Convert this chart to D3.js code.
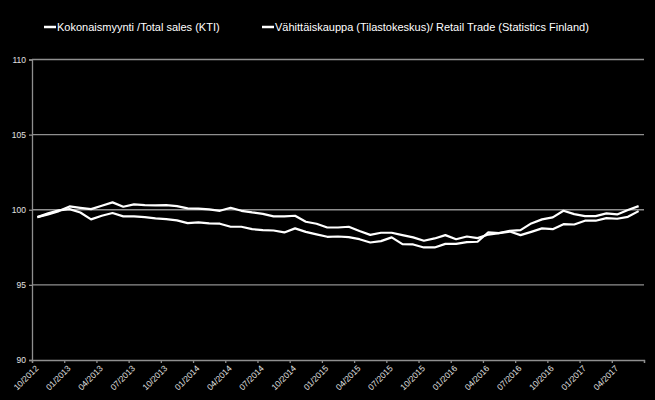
<!DOCTYPE html>
<html><head><meta charset="utf-8">
<script src="https://cdn.jsdelivr.net/npm/d3@7"></script>
<style>html,body{margin:0;padding:0;background:#000;}svg{display:block;}</style>
</head><body>
<script>
const months = ["10/2012","11/2012","12/2012","01/2013","02/2013","03/2013","04/2013","05/2013","06/2013","07/2013","08/2013","09/2013","10/2013","11/2013","12/2013",
"01/2014","02/2014","03/2014","04/2014","05/2014","06/2014","07/2014","08/2014","09/2014","10/2014","11/2014","12/2014",
"01/2015","02/2015","03/2015","04/2015","05/2015","06/2015","07/2015","08/2015","09/2015","10/2015","11/2015","12/2015",
"01/2016","02/2016","03/2016","04/2016","05/2016","06/2016","07/2016","08/2016","09/2016","10/2016","11/2016","12/2016",
"01/2017","02/2017","03/2017","04/2017","05/2017","06/2017"];
const totalSales = [99.51,99.69,99.91,100.22,100.13,100.04,100.27,100.49,100.2,100.36,100.31,100.29,100.31,100.24,100.09,
100.07,100.02,99.93,100.13,99.93,99.82,99.73,99.56,99.56,99.6,99.2,99.07,
98.82,98.82,98.87,98.58,98.33,98.47,98.47,98.31,98.16,97.94,98.09,98.31,
98.04,98.22,98.11,98.35,98.45,98.6,98.64,99.09,99.36,99.49,99.93,99.71,
99.58,99.58,99.76,99.69,99.98,100.24];
const retailTrade = [99.51,99.76,99.96,100.04,99.82,99.36,99.6,99.78,99.56,99.56,99.51,99.42,99.38,99.29,99.11,
99.16,99.09,99.07,98.87,98.87,98.71,98.64,98.62,98.49,98.76,98.53,98.36,
98.2,98.22,98.18,98.04,97.82,97.91,98.16,97.71,97.69,97.49,97.49,97.73,
97.73,97.84,97.87,98.5,98.45,98.55,98.31,98.53,98.76,98.71,99.04,99.02,
99.27,99.27,99.44,99.4,99.53,99.91];
const seriesNames = ["Kokonaismyynti /Total sales (KTI)", "Vähittäiskauppa (Tilastokeskus)/ Retail Trade (Statistics Finland)"];
const yTicks = [90,95,100,105,110];
const xTickIdx = [0,3,6,9,12,15,18,21,24,27,30,33,36,39,42,45,48,51,54,57];

const W = 655, H = 400;
const svg = d3.select("body").append("svg").attr("width", W).attr("height", H)
  .style("background","#000").style("font-family","'Liberation Sans', Arial, sans-serif");
svg.append("rect").attr("width",W).attr("height",H).attr("fill","#000");

const pLeft = 32, pRight = 644, pTop = 59.5, pBottom = 360;
const x = d3.scaleLinear().domain([0, months.length]).range([pLeft, pRight]);
const y = d3.scaleLinear().domain([90,110]).range([pBottom, pTop]);
const grid = "#8f8f8f";

// gridlines
svg.append("g").selectAll("line").data(yTicks.filter(v=>v!==90)).join("line")
  .attr("x1", pLeft).attr("x2", pRight).attr("y1", d=>y(d)).attr("y2", d=>y(d))
  .attr("stroke", grid).attr("stroke-width", 1.3);

// y axis
const ya = svg.append("g").attr("transform",`translate(${pLeft},0)`)
  .call(d3.axisLeft(y).tickValues(yTicks).tickSize(3).tickPadding(3).tickFormat(d3.format("d")));
ya.select(".domain").attr("stroke", grid).attr("stroke-width",1.3);
ya.selectAll(".tick line").attr("stroke", grid).attr("stroke-width",1.3);
ya.selectAll("text").attr("fill","#e0e0e0").style("font-size","8.5px").style("font-family","'Liberation Sans', Arial, sans-serif");

// x axis
const xa = svg.append("g").attr("transform",`translate(0,${pBottom})`)
  .call(d3.axisBottom(x).tickValues(xTickIdx).tickSize(3).tickFormat(i => months[i] || ""));
xa.select(".domain").attr("stroke", grid).attr("stroke-width",1.3);
xa.selectAll(".tick line").attr("stroke", grid).attr("stroke-width",1.3);
xa.selectAll("text").attr("fill","#e0e0e0").style("font-size","8.5px")
  .style("font-family","'Liberation Sans', Arial, sans-serif")
  .attr("text-anchor","end").attr("dy",0).attr("y",9).attr("x",6.5)
  .attr("transform","rotate(-45 6.5 9)");

// lines
const line = d3.line().x((d,i)=>x(i+0.5)).y(d=>y(d));
[totalSales, retailTrade].forEach(s => {
  svg.append("path").datum(s).attr("d", line).attr("fill","none")
    .attr("stroke","#fff").attr("stroke-width",2.2).attr("stroke-linejoin","round");
});

// legend
const legX = [44, 262];
const lg = svg.append("g");
seriesNames.forEach((n,i)=>{
  lg.append("line").attr("x1",legX[i]).attr("x2",legX[i]+12).attr("y1",27).attr("y2",27)
    .attr("stroke","#fff").attr("stroke-width",2.5);
  lg.append("text").attr("x",legX[i]+13).attr("y",31).attr("fill","#fff")
    .style("font-size","11px").text(n);
});
</script>
</body></html>
